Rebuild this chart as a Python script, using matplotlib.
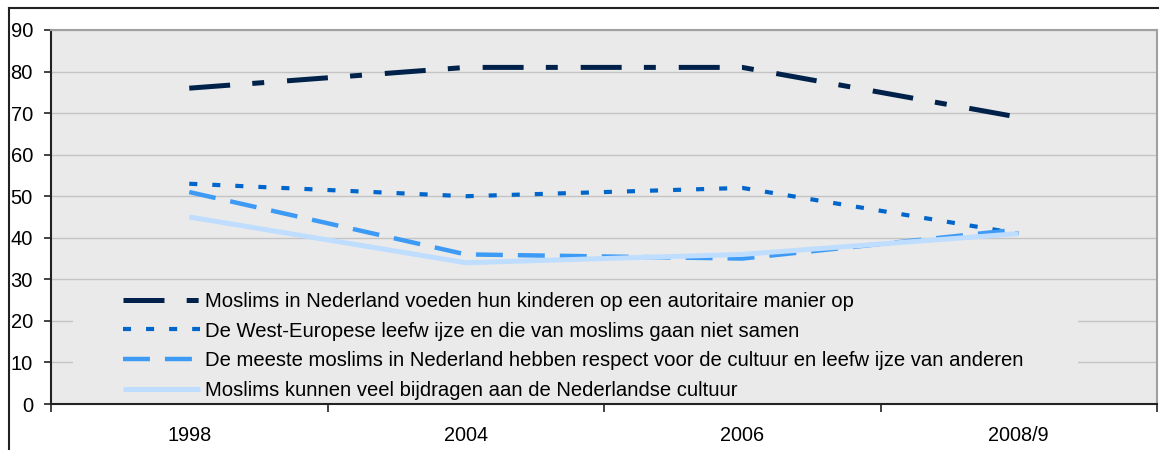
import matplotlib
matplotlib.use("Agg")
import matplotlib.pyplot as plt
from matplotlib.patches import Rectangle
from matplotlib.lines import Line2D

plt.rcParams['font.family'] = ['Liberation Sans', 'DejaVu Sans']
plt.rcParams['lines.scale_dashes'] = False

years = ['1998', '2004', '2006', '2008/9']
labels = [
    'Moslims in Nederland voeden hun kinderen op een autoritaire manier op',
    'De West-Europese leefw ijze en die van moslims gaan niet samen',
    'De meeste moslims in Nederland hebben respect voor de cultuur en leefw ijze van anderen',
    'Moslims kunnen veel bijdragen aan de Nederlandse cultuur',
]
autoritair = [76, 81, 81, 69]
niet_samen = [53, 50, 52, 41]
respect = [51, 36, 35, 42]
bijdragen = [45, 34, 36, 41]

series = [autoritair, niet_samen, respect, bijdragen]
colors = ['#00224A', '#0066CC', '#3D9BF5', '#BFDDFF']
widths = [3.6, 3.0, 3.2, 3.6]
dashes = [(29.5, 16, 8.6, 16.5), (5.8, 10.8), (19.4, 10.8), None]

fig = plt.figure(figsize=(11.59, 4.5), dpi=100)
ax = fig.add_axes([51 / 1159, 46 / 450, 1106 / 1159, 374 / 450])
ax.set_facecolor('#EAEAEA')

x = list(range(len(years)))
for vals, col, lw, ds, lab in zip(series, colors, widths, dashes, labels):
    if ds is None:
        ax.plot(x, vals, color=col, lw=lw, label=lab, solid_capstyle='butt', zorder=3)
    else:
        ax.plot(x, vals, color=col, lw=lw, dashes=ds, label=lab, zorder=3)

ax.set_xlim(-0.5, 3.5)
ax.set_ylim(0, 90)
ax.set_yticks(range(0, 91, 10))
ax.yaxis.grid(True, color='#C4C4C4', lw=1.0, zorder=0)
ax.set_axisbelow(True)

ax.set_xticks([-0.5, 0.5, 1.5, 2.5, 3.5])
ax.set_xticklabels([])
ax.set_xticks(x, minor=True)
ax.set_xticklabels(years, minor=True)
ax.tick_params(axis='x', which='major', length=6, width=1.2, color='#222222', direction='out')
ax.tick_params(axis='x', which='minor', length=0, pad=16, labelsize=14.3)
ax.tick_params(axis='y', length=5, width=1.2, color='#222222', pad=8, labelsize=14.5)

for s in ['left', 'bottom']:
    ax.spines[s].set_color('#222222')
    ax.spines[s].set_linewidth(1.5)
for s in ['top', 'right']:
    ax.spines[s].set_color('#A0A0A0')
    ax.spines[s].set_linewidth(1.5)

# legend background hides the gridlines behind it
ax.add_patch(Rectangle((22 / 1106, 0), 1005 / 1106, 117 / 374, transform=ax.transAxes,
                       facecolor='#EAEAEA', edgecolor='none', zorder=1))

ax.legend(loc='upper left', bbox_to_anchor=(72 / 1106, 112 / 374), frameon=False,
          borderaxespad=0, borderpad=0, handlelength=3.8, handletextpad=0.25,
          labelspacing=0.52, fontsize=14.6)

# outer chart frame
fig.add_artist(Line2D([9 / 1159, 1], [1 - 8 / 450, 1 - 8 / 450], color='#222222', lw=1.5))
fig.add_artist(Line2D([9 / 1159, 9 / 1159], [0, 1 - 8 / 450], color='#222222', lw=1.5))

fig.savefig('out.png', dpi=100)
